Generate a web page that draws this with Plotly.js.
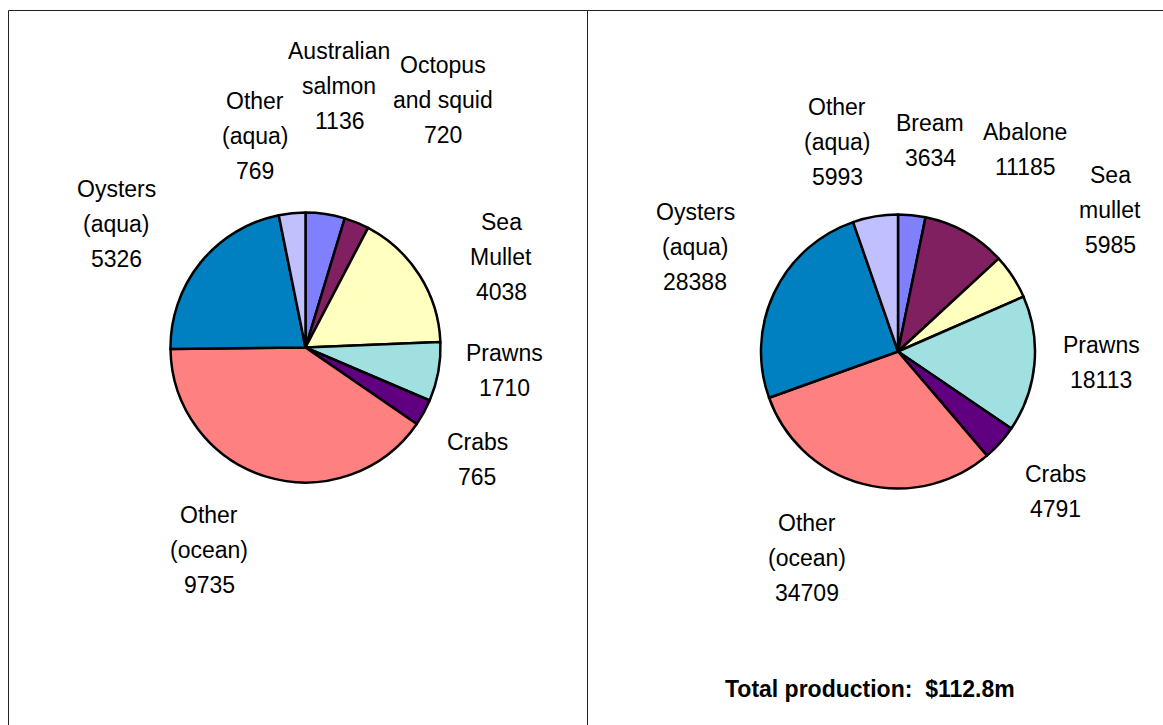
<!DOCTYPE html>
<html>
<head>
<meta charset="utf-8">
<script src="https://cdn.plot.ly/plotly-3.0.1.min.js"></script>
<style>
html,body{margin:0;padding:0;background:#fff;}
#chart{width:1163px;height:725px;}
</style>
</head>
<body>
<div id="chart"></div>
<script>
// ---- Data ----
const leftCategories = ["Australian salmon", "Octopus and squid", "Sea Mullet", "Prawns", "Crabs", "Other (ocean)", "Oysters (aqua)", "Other (aqua)"];
const leftValues = [1136, 720, 4038, 1710, 765, 9735, 5326, 769];
const rightCategories = ["Bream", "Abalone", "Sea mullet", "Prawns", "Crabs", "Other (ocean)", "Oysters (aqua)", "Other (aqua)"];
const rightValues = [3634, 11185, 5985, 18113, 4791, 34709, 28388, 5993];
const sliceColors = ["#8080FF", "#802060", "#FFFFC0", "#A0E0E0", "#600080", "#FF8080", "#0080C0", "#C0C0FF"];
const totalText = "Total production:  $112.8m";

// Label line breaks (how each category label is wrapped)
const leftLabelLines = [["Australian", "salmon"], ["Octopus", "and squid"], ["Sea", "Mullet"], ["Prawns"], ["Crabs"], ["Other", "(ocean)"], ["Oysters", "(aqua)"], ["Other", "(aqua)"]];
const rightLabelLines = [["Bream"], ["Abalone"], ["Sea", "mullet"], ["Prawns"], ["Crabs"], ["Other", "(ocean)"], ["Oysters", "(aqua)"], ["Other", "(aqua)"]];

// ---- Layout helpers (pixel positions of label centres, first line) ----
const W = 1163, H = 725;
const leftLabelPos = [[339, 51], [443, 65], [501, 222], [504, 353], [477, 442], [209, 515], [116, 189], [255, 101]];
const rightLabelPos = [[930, 123], [1025, 132], [1110, 175], [1101, 345], [1055, 474], [807, 523], [695, 212], [837, 107]];
const LINE = 35;
const FONT = {family: "Liberation Sans, Arial, sans-serif", size: 23, color: "#000"};

function px(x) { return x / W; }
function py(y) { return 1 - y / H; }

function domainFor(cx, cy, r) {
  return {x: [px(cx - r), px(cx + r)], y: [py(cy + r), py(cy - r)]};
}

function pieTrace(cats, vals, dom) {
  return {
    type: "pie",
    labels: cats,
    values: vals,
    sort: false,
    direction: "clockwise",
    rotation: 0,
    domain: dom,
    textinfo: "none",
    hoverinfo: "label+value",
    marker: {colors: sliceColors, line: {color: "#000", width: 2.5}},
    showlegend: false
  };
}

const annotations = [];
function addLabels(lines, vals, pos) {
  lines.forEach((ls, i) => {
    const all = ls.concat([String(vals[i])]);
    all.forEach((t, j) => {
      annotations.push({
        xref: "paper", yref: "paper",
        x: px(pos[i][0]), y: py(pos[i][1] + j * LINE),
        xanchor: "center", yanchor: "middle",
        text: t, showarrow: false, font: FONT
      });
    });
  });
}
addLabels(leftLabelLines, leftValues, leftLabelPos);
addLabels(rightLabelLines, rightValues, rightLabelPos);
annotations.push({
  xref: "paper", yref: "paper", x: px(870), y: py(689),
  xanchor: "center", yanchor: "middle", showarrow: false,
  text: "<b>" + totalText + "</b>",
  font: {family: "Liberation Sans, Arial, sans-serif", size: 23, color: "#000"}
});

const lineStyle = {color: "#222", width: 1};
const shapes = [
  {type: "line", xref: "paper", yref: "paper", x0: px(8.5), x1: 1, y0: py(10.5), y1: py(10.5), line: lineStyle},
  {type: "line", xref: "paper", yref: "paper", x0: px(8.5), x1: px(8.5), y0: py(10.5), y1: 0, line: lineStyle},
  {type: "line", xref: "paper", yref: "paper", x0: px(587.5), x1: px(587.5), y0: py(10.5), y1: 0, line: lineStyle}
];

const data = [
  pieTrace(leftCategories, leftValues, domainFor(305.5, 347.5, 135)),
  pieTrace(rightCategories, rightValues, domainFor(898, 351.5, 137))
];

const layout = {
  width: W, height: H,
  margin: {l: 0, r: 0, t: 0, b: 0},
  paper_bgcolor: "#fff",
  plot_bgcolor: "#fff",
  showlegend: false,
  annotations: annotations,
  shapes: shapes
};

Plotly.newPlot("chart", data, layout, {displayModeBar: false, staticPlot: true});
</script>
</body>
</html>
